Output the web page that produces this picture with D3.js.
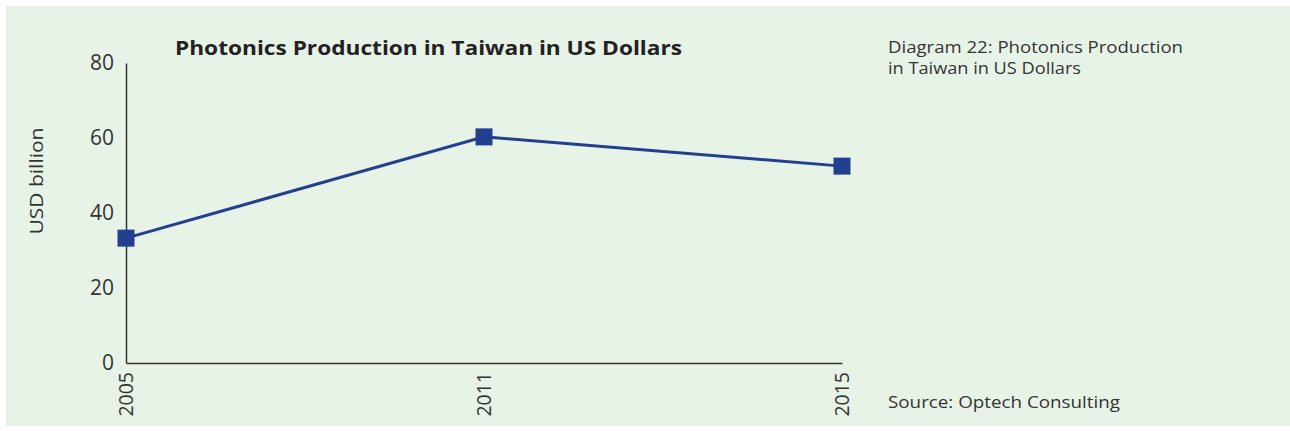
<!DOCTYPE html>
<html>
<head>
<meta charset="utf-8">
<script src="https://cdn.jsdelivr.net/npm/d3@7"></script>
<style>
  body { margin: 0; background: #fff; }
  svg { display: block; font-family: "Open Sans", Lato, sans-serif; }
</style>
</head>
<body>
<div id="chart"></div>
<script>
var years = ["2005", "2011", "2015"];
var values = [33.3, 60.3, 52.5];
var yTicks = [0, 20, 40, 60, 80];

var svgWidth = 1290, svgHeight = 431;
var margin = { top: 63, left: 126 };
var width = 716, height = 300;

var svg = d3.select("#chart").append("svg")
  .attr("width", svgWidth)
  .attr("height", svgHeight);

// background panel
svg.append("rect")
  .attr("x", 6).attr("y", 6)
  .attr("width", svgWidth - 6).attr("height", 420)
  .attr("fill", "#e8f3e7");

var g = svg.append("g")
  .attr("transform", `translate(${margin.left}, ${margin.top})`);

var x = d3.scalePoint().domain(years).range([0, width]);
var y = d3.scaleLinear().domain([0, 80]).range([height, 0]);

// axes
var leftAxis = d3.axisLeft(y).tickValues(yTicks).tickSize(0).tickPadding(12);
var bottomAxis = d3.axisBottom(x).tickSize(0);

var yAxisG = g.append("g").call(leftAxis);
yAxisG.select(".domain").attr("stroke", "#333").attr("stroke-width", 1.5);
yAxisG.selectAll("text")
  .attr("font-size", 21)
  .attr("fill", "#333")
  .attr("font-family", "'Open Sans', sans-serif");

var xAxisG = g.append("g")
  .attr("transform", `translate(0, ${height})`)
  .call(bottomAxis);
xAxisG.select(".domain").attr("stroke", "#333").attr("stroke-width", 1.5);
xAxisG.selectAll("text")
  .attr("font-size", 19.5)
  .attr("fill", "#333")
  .attr("font-family", "'Open Sans', sans-serif")
  .attr("text-anchor", "end")
  .attr("transform", "rotate(-90)")
  .attr("x", -9)
  .attr("y", 0)
  .attr("dy", "0.35em");

// line
var line = d3.line()
  .x(function(d, i) { return x(years[i]); })
  .y(function(d) { return y(d); });

g.append("path")
  .datum(values)
  .attr("fill", "none")
  .attr("stroke", "#233f8f")
  .attr("stroke-width", 3)
  .attr("d", line);

var size = 17;
g.selectAll(".marker")
  .data(values)
  .enter()
  .append("rect")
  .attr("class", "marker")
  .attr("x", function(d, i) { return x(years[i]) - size / 2; })
  .attr("y", function(d) { return y(d) - size / 2; })
  .attr("width", size)
  .attr("height", size)
  .attr("fill", "#233f8f");

// title
svg.append("text")
  .attr("x", 175).attr("y", 55)
  .attr("font-size", 20)
  .attr("font-weight", "bold")
  .attr("fill", "#222")
  .attr("textLength", 507)
  .attr("lengthAdjust", "spacingAndGlyphs")
  .text("Photonics Production in Taiwan in US Dollars");

// y axis label
svg.append("text")
  .attr("transform", "translate(43, 181) rotate(-90)")
  .attr("text-anchor", "middle")
  .attr("font-size", 18)
  .attr("fill", "#333")
  .attr("textLength", 107)
  .attr("lengthAdjust", "spacingAndGlyphs")
  .text("USD billion");

// side notes
svg.append("text")
  .attr("x", 888).attr("y", 53)
  .attr("font-size", 16)
  .attr("fill", "#333")
  .attr("textLength", 295)
  .attr("lengthAdjust", "spacingAndGlyphs")
  .text("Diagram 22: Photonics Production");
svg.append("text")
  .attr("x", 888).attr("y", 74)
  .attr("font-size", 16)
  .attr("fill", "#333")
  .attr("textLength", 193)
  .attr("lengthAdjust", "spacingAndGlyphs")
  .text("in Taiwan in US Dollars");
svg.append("text")
  .attr("x", 888).attr("y", 408)
  .attr("font-size", 16.5)
  .attr("fill", "#333")
  .attr("textLength", 232)
  .attr("lengthAdjust", "spacingAndGlyphs")
  .text("Source: Optech Consulting");
</script>
</body>
</html>
